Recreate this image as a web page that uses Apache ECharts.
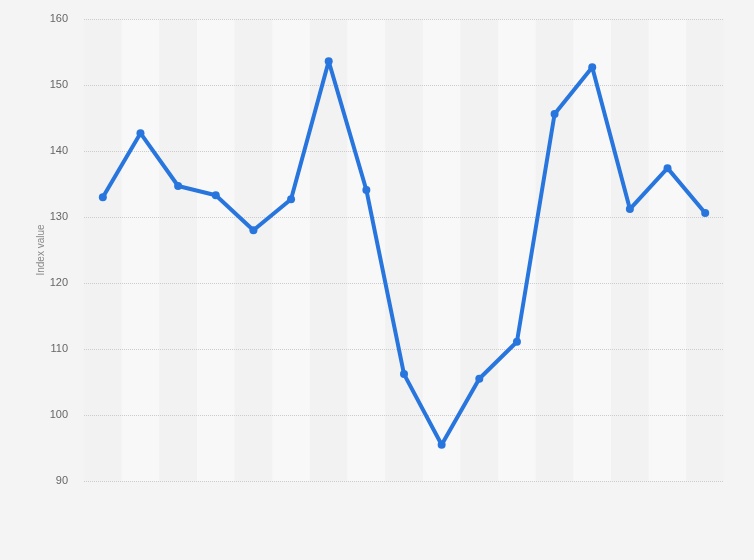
<!DOCTYPE html>
<html>
<head>
<meta charset="utf-8">
<script src="https://cdn.jsdelivr.net/npm/echarts@6/dist/echarts.min.js"></script>
<style>
  html, body { margin: 0; padding: 0; background: #f4f4f4; }
  #chart { width: 754px; height: 560px; }
</style>
</head>
<body>
<div id="chart"></div>
<script>
"use strict";
var categories = ["1", "2", "3", "4", "5", "6", "7", "8", "9", "10", "11", "12", "13", "14", "15", "16", "17"];
var indexValues = [133.0, 142.7, 134.7, 133.3, 128.0, 132.7, 153.6, 134.1, 106.2, 95.5, 105.5, 111.1, 145.6, 152.7, 131.2, 137.4, 130.6];
var yTicks = { min: 90, max: 160, interval: 10 };

function chart1() {
  var chart = echarts.init(document.getElementById("chart"));
  chart.setOption({
    backgroundColor: "#f4f4f4",
    animation: false,
    grid: {
      left: 84,
      right: 30,
      top: 19,
      bottom: 79,
    },
    xAxis: {
      type: "category",
      data: categories,
      boundaryGap: true,
      z: 0,
      axisLine: { show: false },
      axisTick: { show: false },
      axisLabel: { show: false },
      splitArea: {
        show: true,
        areaStyle: { color: ["#f2f2f2", "#f8f8f8"] },
      },
    },
    yAxis: {
      type: "value",
      min: yTicks.min,
      max: yTicks.max,
      interval: yTicks.interval,
      z: 1,
      name: "Index value",
      nameLocation: "middle",
      nameGap: 38,
      nameMoveOverlap: false,
      nameTextStyle: {
        color: "#888",
        fontSize: 10,
        fontFamily: "Liberation Sans",
      },
      axisLine: { show: false },
      axisTick: { show: false },
      axisLabel: {
        color: "#666",
        fontSize: 11,
        fontFamily: "Liberation Sans",
        margin: 16,
      },
      splitLine: {
        lineStyle: { color: "#cccccc", type: "dotted", width: 1 },
      },
    },
    series: [
      {
        name: "Index value",
        type: "line",
        z: 3,
        data: indexValues,
        symbol: "circle",
        symbolSize: 8,
        lineStyle: { width: 4, color: "#2876dd" },
        itemStyle: { color: "#2876dd" },
      },
    ],
  });
}

chart1();
</script>
</body>
</html>
